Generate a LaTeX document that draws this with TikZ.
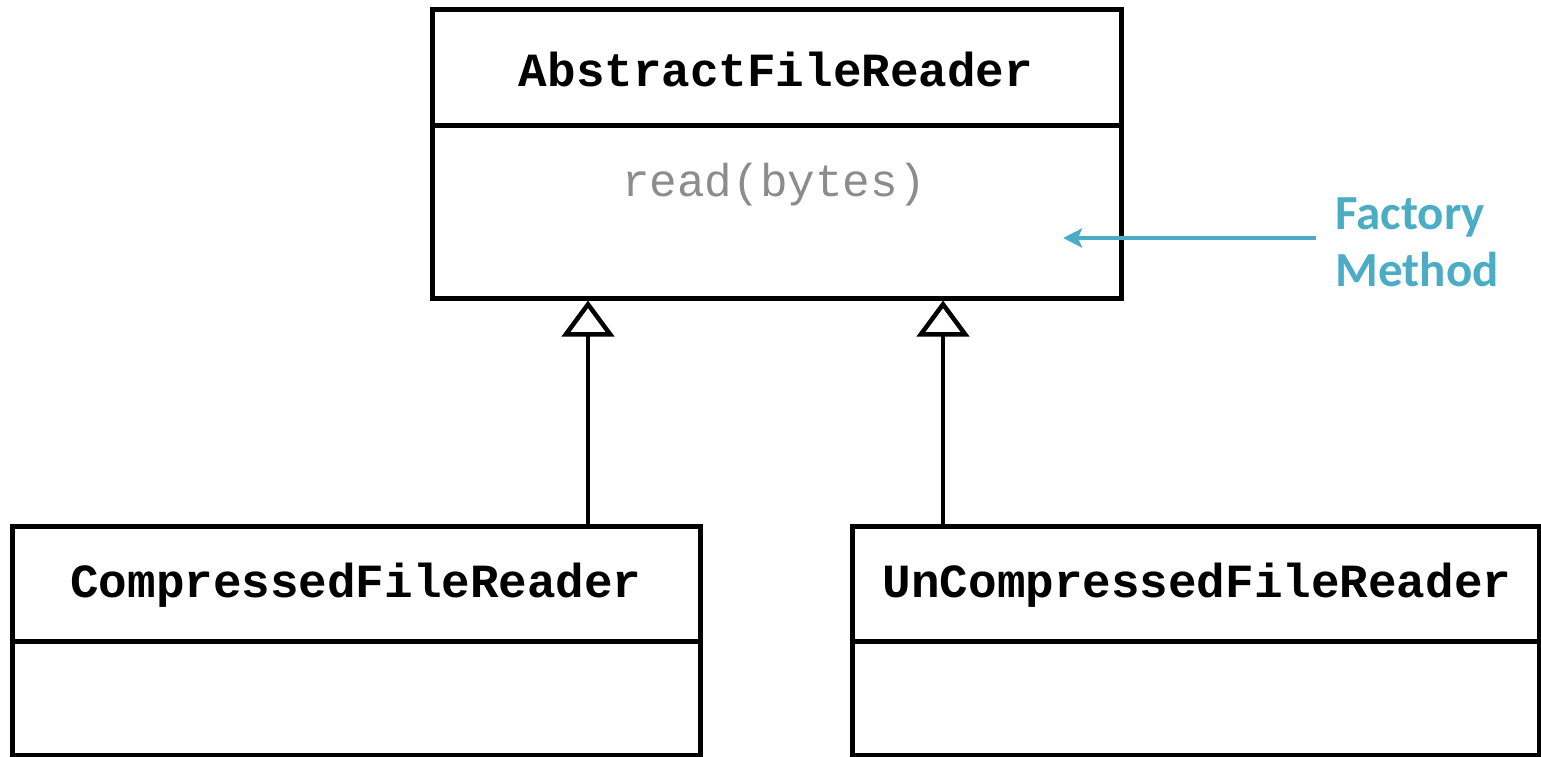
\documentclass[tikz,border=0pt]{standalone}
\usepackage{fontspec}
\setmonofont{Liberation Mono}
\newfontfamily\notefont{Carlito}
\usetikzlibrary{arrows.meta}
\definecolor{noteblue}{HTML}{4BACC6}
\definecolor{opgray}{HTML}{8C8C8C}
\begin{document}
\begin{tikzpicture}[x=1pt,y=-1pt,
  classbox/.style={draw, line width=5pt, rectangle, inner sep=0pt},
  classname/.style={font=\fontsize{47.6}{50}\selectfont\ttfamily\bfseries},
  opname/.style={font=\fontsize{46}{50}\selectfont\ttfamily, text=opgray},
  inherit/.style={line width=4.5pt, -{Triangle[open, width=52pt, length=36pt, line width=4.5pt]}},
  notearrow/.style={noteblue, line width=4pt, -{Stealth[length=19pt, width=19pt, inset=4pt]}},
  notetext/.style={font=\fontsize{49}{57}\selectfont\notefont\bfseries, text=noteblue, align=left, anchor=west}]
\useasboundingbox (0,0) rectangle (1541,757);

% abstract base class
\node[classbox, minimum width=689pt, minimum height=288pt] (base) at (776.5,154) {};
\draw[line width=5pt] (base.west |- 0,126) -- (base.east |- 0,126);
\node[classname] (basename) at (776,69) {AbstractFileReader};
\node[opname] (baseop) at (774,185) {read(bytes)};

% concrete subclasses
\node[classbox, minimum width=688pt, minimum height=229pt] (comp) at (356,640.5) {};
\draw[line width=5pt] (comp.west |- 0,641) -- (comp.east |- 0,641);
\node[classname] (compname) at (356,585) {CompressedFileReader};

\node[classbox, minimum width=687pt, minimum height=229pt] (uncomp) at (1195.5,640.5) {};
\draw[line width=5pt] (uncomp.west |- 0,641) -- (uncomp.east |- 0,641);
\node[classname] (uncompname) at (1197,585) {UnCompressedFileReader};

% generalisation arrows
\coordinate (compup) at (588,523.5);
\coordinate (uncompup) at (943,523.5);
\draw[inherit] (compup) -- (compup |- base.south);
\draw[inherit] (uncompup) -- (uncompup |- base.south);

% annotation
\node[notetext] (note) at (1332,242) {Factory\\Method};
\coordinate (notestart) at (1316,238);
\coordinate (noteend) at (1063,238);
\draw[notearrow] (notestart) -- (noteend);
\end{tikzpicture}
\end{document}
